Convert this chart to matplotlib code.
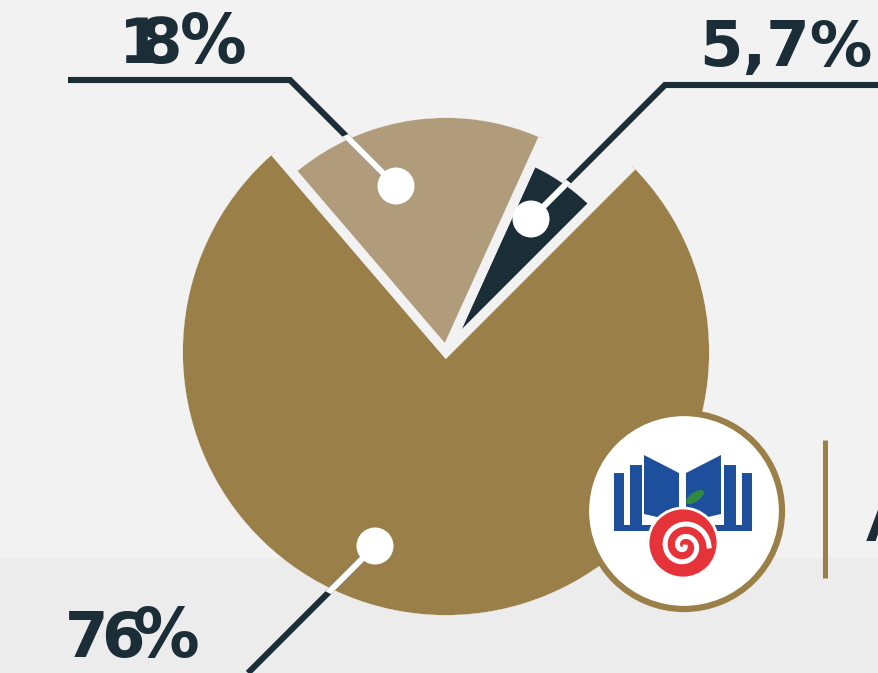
import matplotlib

matplotlib.use("Agg")

import numpy as np
from matplotlib import pyplot as plt
from matplotlib.patches import Circle, Ellipse, Polygon, Rectangle

W, H = 879, 673

# slice data (order: counter-clockwise on screen from the 45 deg line)
shares = [5.7, 18, 76]
labels = ["5,7%", "18%", "76%"]
slice_colors = ["#1b2e37", "#b09c7a", "#9a8048"]
slice_radii = [210, 239, 268]

BG = "#f2f2f2"
BG_LOW = "#ececec"
DARK = "#1b2e37"
GOLD = "#9a8048"
BLUE = "#1d4f9c"
RED = "#e6333a"
GREEN = "#2f8a40"

CENTER = (446, 352)
GAP_LW = 7  # stroke in background colour that opens the gaps between slices

fig = plt.figure(figsize=(W / 100, H / 100), dpi=100)
ax = fig.add_axes([0, 0, 1, 1])
ax.set_facecolor(BG)

# y axis is inverted (pixel-like coords), so clockwise in data = counter-clockwise on screen
wedges, _ = ax.pie(
    shares,
    colors=slice_colors,
    startangle=-45,
    counterclock=False,
    center=CENTER,
    radius=1,
    normalize=True,
    wedgeprops={"edgecolor": BG, "linewidth": GAP_LW, "joinstyle": "miter"},
)
half_gap = GAP_LW * 100 / 72 / 2
for wedge, r in zip(wedges, slice_radii):
    wedge.set_radius(r)
    wedge.set_zorder(2)
    # hide the outer part of the stroke so no ring shows on the lower band
    wedge.set_clip_path(Circle(CENTER, r - half_gap, transform=ax.transData))
    wedge.set_clip_on(True)

ax.set_xlim(0, W)
ax.set_ylim(H, 0)
ax.set_aspect("auto")
ax.axis("off")
ax.add_patch(Rectangle((0, 558), W, H - 558, facecolor=BG_LOW, edgecolor="none", zorder=0))
fig.patch.set_facecolor(BG)

# leader lines: (points from label to dot, wedge index)
leaders = [
    ([(879, 85), (665, 85), (531, 219)], 0),
    ([(68, 80), (290, 80), (396, 186)], 1),
    ([(248, 673), (375, 546)], 2),
]
for pts, idx in leaders:
    xs, ys = zip(*pts)
    ax.plot(xs, ys, color=DARK, lw=4.4, solid_capstyle="butt", solid_joinstyle="miter", zorder=3)
    (white,) = ax.plot(xs, ys, color="white", lw=4.4, solid_capstyle="butt", zorder=4)
    white.set_clip_path(wedges[idx])
    ax.add_patch(Circle(pts[-1], 18.5, facecolor="white", edgecolor="none", zorder=5))

# percentage labels, characters set tightly like the original
label_font = {"fontweight": "bold", "color": DARK, "family": "DejaVu Sans", "zorder": 6}
ax.text(699, 66, labels[0], ha="left", va="baseline", fontsize=45, **label_font)
for ch, x, fs in zip(labels[1], [119, 138, 180], [45, 45, 48]):
    ax.text(x, 63, ch, ha="left", va="baseline", fontsize=fs, **label_font)
for ch, x, fs in zip(labels[2], [65, 101, 133], [45, 45, 48]):
    ax.text(x, 657, ch, ha="left", va="baseline", fontsize=fs, **label_font)

# logo
ax.add_patch(Circle((684, 511), 98, facecolor="white", edgecolor=GOLD, lw=4.5, zorder=6))
for x0, x1, y0 in [(614, 624, 473), (630, 642, 465), (724, 736, 465), (742, 752, 473)]:
    ax.add_patch(Rectangle((x0, y0), x1 - x0, 531 - y0, facecolor=BLUE, edgecolor="none", zorder=7))
ax.add_patch(Rectangle((614, 525), 138, 6, facecolor=BLUE, edgecolor="none", zorder=7))
ax.add_patch(Polygon([(644, 455), (679, 473), (679, 522), (644, 514)], facecolor=BLUE, edgecolor="none", zorder=7))
ax.add_patch(Polygon([(721, 455), (686, 473), (686, 522), (721, 514)], facecolor=BLUE, edgecolor="none", zorder=7))
ax.add_patch(Circle((683, 543), 35, facecolor=RED, edgecolor="white", lw=2, zorder=8))
ax.add_patch(Ellipse((695, 497), 21, 9, angle=-35, facecolor=GREEN, edgecolor="none", zorder=8))
t = np.linspace(0.8, 4.0 * np.pi, 200)
sr = 25 * t / t.max()
ax.plot(684 + sr * np.cos(t), 546 + sr * np.sin(t), color="white", lw=3.6, zorder=9)

ax.plot([825, 825], [440, 578], color=GOLD, lw=3.6, solid_capstyle="butt", zorder=6)
ax.text(866, 541, "Α", ha="left", va="baseline", fontsize=36, fontweight="bold", color=DARK, zorder=6)

fig.savefig("out.png", dpi=100, facecolor=BG)
plt.close(fig)
